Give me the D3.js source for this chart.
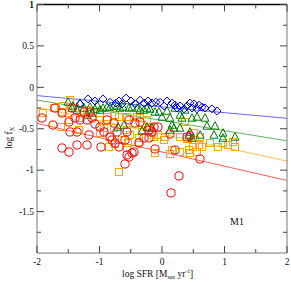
<!DOCTYPE html>
<meta charset="utf-8">
<style>
body { margin: 0; background: #fff; }
svg text { font-family: "Liberation Serif", "DejaVu Serif", serif; fill: #111; }
</style>
<body>
<svg id="chart" width="291" height="283"></svg>
<script src="https://d3js.org/d3.v7.min.js"></script>
<script>
// log SFR vs log f_X, model M1
var blueX = [-1.312,-1.184,-1.072,-0.944,-0.832,-0.736,-0.688,-0.64,-0.576,-0.496,-0.432,-0.352,-0.288,-0.224,-0.16,-0.096,-0.032,0.032,0.08,0.16,0.208,0.24,0.288,0.352,0.40,0.448,0.48,0.512,0.56,0.592,0.64,0.688,0.80,0.88];
var blueY = [-0.20,-0.14,-0.165,-0.14,-0.18,-0.19,-0.165,-0.20,-0.13,-0.165,-0.20,-0.155,-0.19,-0.165,-0.19,-0.18,-0.18,-0.225,-0.165,-0.19,-0.215,-0.25,-0.225,-0.26,-0.225,-0.19,-0.25,-0.20,-0.26,-0.215,-0.24,-0.25,-0.26,-0.285];

var greenX = [-1.504,-1.44,-1.424,-1.36,-1.312,-1.248,-1.20,-1.152,-1.12,-1.072,-1.04,-0.992,-0.944,-0.88,-0.832,-0.768,-0.72,-0.704,-0.672,-0.624,-0.608,-0.528,-0.48,-0.40,-0.352,-0.32,-0.288,-0.24,-0.24,-0.192,-0.16,-0.112,-0.048,0.0,0.08,0.128,0.128,0.16,0.192,0.208,0.288,0.288,0.32,0.368,0.432,0.448,0.48,0.48,0.56,0.608,0.688,0.72,0.832,0.848,0.976,0.976,1.168];
var greenY = [-0.177,-0.25,-0.225,-0.274,-0.189,-0.25,-0.334,-0.238,-0.31,-0.262,-0.214,-0.274,-0.25,-0.238,-0.238,-0.225,-0.225,-0.479,-0.25,-0.238,-0.455,-0.25,-0.238,-0.25,-0.274,-0.527,-0.274,-0.25,-0.479,-0.262,-0.491,-0.298,-0.298,-0.358,-0.286,-0.37,-0.515,-0.455,-0.491,-0.25,-0.334,-0.491,-0.37,-0.274,-0.575,-0.539,-0.37,-0.612,-0.358,-0.575,-0.37,-0.467,-0.575,-0.467,-0.551,-0.612,-0.60];

var orangeX = [-1.904,-1.728,-1.616,-1.60,-1.584,-1.488,-1.472,-1.392,-1.328,-1.312,-1.20,-0.992,-0.992,-0.928,-0.88,-0.848,-0.832,-0.768,-0.752,-0.752,-0.688,-0.688,-0.64,-0.56,-0.56,-0.56,-0.544,-0.512,-0.40,-0.368,-0.368,-0.352,-0.32,-0.32,-0.24,-0.208,-0.192,-0.16,-0.128,-0.112,-0.064,0.032,0.048,0.128,0.16,0.288,0.288,0.368,0.40,0.432,0.448,0.496,0.512,0.528,0.56,0.592,0.608,0.64,0.768,0.896,0.976,1.056,1.136,1.168];
var orangeY = [-0.31,-0.25,-0.479,-0.298,-0.226,-0.394,-0.153,-0.25,-0.515,-0.37,-0.274,-0.31,-0.551,-0.491,-0.358,-0.72,-0.60,-0.491,-0.334,-0.684,-0.358,-1.022,-0.636,-0.358,-0.515,-0.732,-0.672,-0.575,-0.358,-0.612,-0.66,-0.37,-0.515,-0.455,-0.394,-0.491,-0.479,-0.551,-0.60,-0.793,-0.575,-0.636,-0.60,-0.805,-0.757,-0.60,-0.781,-0.419,-0.624,-0.757,-0.793,-0.72,-0.551,-0.636,-0.781,-0.696,-0.60,-0.72,-0.672,-0.72,-0.672,-0.696,-0.66,-0.72];

var redX = [-1.92,-1.744,-1.712,-1.60,-1.60,-1.488,-1.488,-1.472,-1.44,-1.392,-1.36,-1.36,-1.312,-1.248,-1.20,-1.20,-1.168,-1.152,-1.12,-1.072,-0.992,-0.976,-0.928,-0.88,-0.832,-0.80,-0.768,-0.752,-0.72,-0.688,-0.592,-0.592,-0.56,-0.56,-0.528,-0.528,-0.48,-0.448,-0.432,-0.368,-0.352,-0.288,-0.208,-0.208,-0.16,-0.128,-0.112,-0.064,0.128,0.208,0.40,0.448,0.608,0.272,0.144];
var redY = [-0.37,-0.455,-0.25,-0.31,-0.732,-0.419,-0.781,-0.539,-0.25,-0.37,-0.539,-0.696,-0.394,-0.298,-0.394,-0.696,-0.575,-0.298,-0.37,-0.443,-0.479,-0.72,-0.539,-0.394,-0.60,-0.636,-0.431,-0.672,-0.539,-0.72,-0.636,-0.925,-0.539,-0.817,-0.394,-0.841,-0.793,-0.781,-0.431,-0.672,-0.419,-0.612,-0.515,-0.612,-0.539,-0.479,-0.744,-0.479,-0.563,-0.757,-0.60,-0.587,-0.865,-1.07,-1.275];

// linear fits: [intercept, slope]
var fitBlue = [-0.237, -0.0685];
var fitGreen = [-0.40, -0.123];
var fitOrange = [-0.565, -0.1625];
var fitRed = [-0.78, -0.172];

var xMajor = [-2, -1, 0, 1, 2];
var yMajor = [-1.5, -1, -0.5, 0, 0.5, 1];

var svg = d3.select("#chart");
var x = d3.scaleLinear().domain([-2, 2]).range([37, 287]);
var y = d3.scaleLinear().domain([-2, 1]).range([253, 4.5]);

var xMinor = d3.range(-2, 2.01, 0.5).filter(function(v) { return xMajor.indexOf(v) < 0; });
var yMinor = d3.range(-2, 1.01, 0.25).filter(function(v) { return yMajor.indexOf(v) < 0 && v > -2 && v < 1; });

var plot = svg.append("g");
svg.append("clipPath").attr("id", "clip").append("rect")
    .attr("x", 37).attr("y", 4.5).attr("width", 250).attr("height", 248.5);
plot.attr("clip-path", "url(#clip)");

// fit lines
[[fitBlue, "#4040ff"], [fitGreen, "#33a033"], [fitOrange, "#ffb020"], [fitRed, "#ff3030"]].forEach(function(f) {
  plot.append("line")
    .attr("x1", x(-2)).attr("y1", y(f[0][0] + f[0][1] * -2))
    .attr("x2", x(2)).attr("y2", y(f[0][0] + f[0][1] * 2))
    .attr("stroke", f[1]).attr("stroke-width", 0.8);
});

function pts(xs, ys) { return xs.map(function(v, i) { return [v, ys[i]]; }); }

// orange squares
plot.selectAll(".sq").data(pts(orangeX, orangeY)).enter().append("rect")
  .attr("x", function(d) { return x(d[0]) - 3.5; })
  .attr("y", function(d) { return y(d[1]) - 3.5; })
  .attr("width", 7).attr("height", 7)
  .attr("fill", "none").attr("stroke", "#ffa500").attr("stroke-width", 1);

// green triangles
plot.selectAll(".tri").data(pts(greenX, greenY)).enter().append("path")
  .attr("d", function(d) {
    var cx = x(d[0]), cy = y(d[1]);
    return "M" + cx + "," + (cy - 4.3) + "L" + (cx + 4) + "," + (cy + 3.2) + "L" + (cx - 4) + "," + (cy + 3.2) + "Z";
  })
  .attr("fill", "none").attr("stroke", "#008000").attr("stroke-width", 1);

// blue diamonds
plot.selectAll(".dia").data(pts(blueX, blueY)).enter().append("path")
  .attr("d", function(d) {
    var cx = x(d[0]), cy = y(d[1]);
    return "M" + cx + "," + (cy - 4) + "L" + (cx + 4) + "," + cy + "L" + cx + "," + (cy + 4) + "L" + (cx - 4) + "," + cy + "Z";
  })
  .attr("fill", "none").attr("stroke", "#0000ff").attr("stroke-width", 1);

// red circles
plot.selectAll(".cir").data(pts(redX, redY)).enter().append("circle")
  .attr("cx", function(d) { return x(d[0]); })
  .attr("cy", function(d) { return y(d[1]); })
  .attr("r", 4.1)
  .attr("fill", "none").attr("stroke", "#ff0000").attr("stroke-width", 1);

// frame
var fr = svg.append("g").attr("stroke", "#777").attr("stroke-width", 1).attr("fill", "none");
fr.append("line").attr("x1", 37).attr("x2", 37).attr("y1", 4.5).attr("y2", 253);
fr.append("line").attr("x1", 37).attr("x2", 287).attr("y1", 253).attr("y2", 253);
fr.append("line").attr("x1", 287).attr("x2", 287).attr("y1", 4.5).attr("y2", 253);
svg.append("line").attr("x1", 37).attr("x2", 287).attr("y1", 4.5).attr("y2", 4.5)
  .attr("stroke", "#000").attr("stroke-width", 1.5);

// ticks (inward, all four sides)
var tk = svg.append("g").attr("stroke", "#444").attr("stroke-width", 1);
xMajor.concat(xMinor).forEach(function(v) {
  var len = xMajor.indexOf(v) >= 0 ? 7 : 4;
  tk.append("line").attr("x1", x(v)).attr("x2", x(v)).attr("y1", 253).attr("y2", 253 - len);
  tk.append("line").attr("x1", x(v)).attr("x2", x(v)).attr("y1", 4.5).attr("y2", 4.5 + len);
});
yMajor.concat(yMinor).forEach(function(v) {
  var len = yMajor.indexOf(v) >= 0 ? 7 : 4;
  tk.append("line").attr("y1", y(v)).attr("y2", y(v)).attr("x1", 37).attr("x2", 37 + len);
  tk.append("line").attr("y1", y(v)).attr("y2", y(v)).attr("x1", 287).attr("x2", 287 - len);
});

// tick labels
svg.selectAll(".xl").data(xMajor).enter().append("text")
  .attr("x", function(d) { return x(d); }).attr("y", 265)
  .attr("text-anchor", "middle").attr("font-size", 9.5)
  .text(function(d) { return d; });
svg.selectAll(".yl").data(yMajor.concat([1])).enter().append("text")
  .attr("x", 34).attr("y", function(d) { return y(d) + 3.2; })
  .attr("text-anchor", "end").attr("font-size", 9.5)
  .text(function(d) { return d; });

// axis titles
var xt = svg.append("text").attr("x", 122).attr("y", 277).attr("font-size", 9.5);
xt.append("tspan").text("log SFR  [M");
xt.append("tspan").attr("font-size", 5.5).attr("dy", 2).text("sun");
xt.append("tspan").attr("dy", -2).text(" yr");
xt.append("tspan").attr("font-size", 5.5).attr("dy", -4).text("-1");
xt.append("tspan").attr("dy", 4).text("]");

var yt = svg.append("text").attr("transform", "translate(12,149) rotate(-90)").attr("font-size", 9.5);
yt.append("tspan").text("log f");
yt.append("tspan").attr("font-size", 6.5).attr("dy", 2).text("X");

svg.append("text").attr("x", 237).attr("y", 225).attr("text-anchor", "middle")
  .attr("font-size", 10).text("M1");
</script>
</body>
